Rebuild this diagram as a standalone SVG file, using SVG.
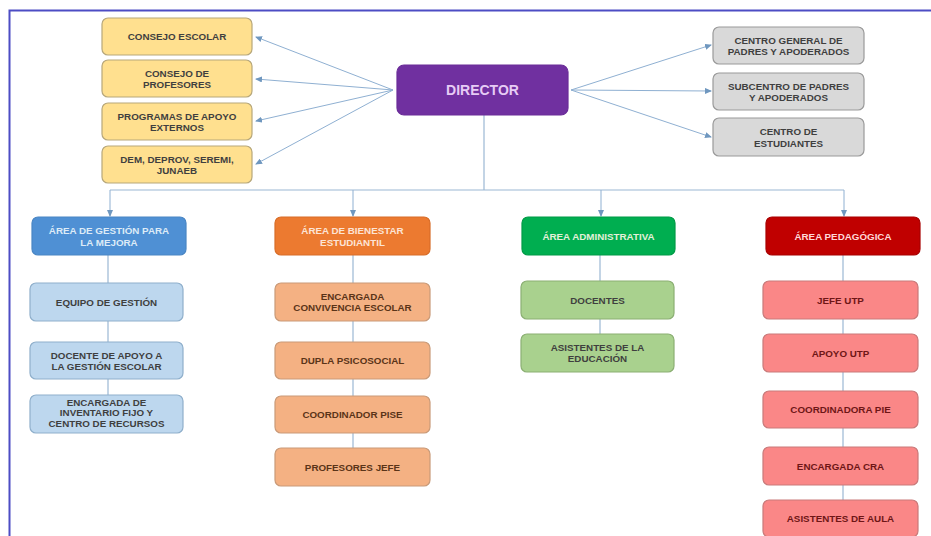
<svg xmlns="http://www.w3.org/2000/svg" width="931" height="536" viewBox="0 0 931 536">
<defs>
<marker id="ah" markerUnits="userSpaceOnUse" markerWidth="7" markerHeight="6" refX="6" refY="3" orient="auto">
<path d="M0,0 L7,3 L0,6 Z" fill="#6F97BF"/>
</marker>
<style>
text{font-family:"Liberation Sans",Arial,sans-serif;font-weight:bold;font-size:9.8px;text-anchor:middle}
.bx{stroke-width:1.2}
.y{fill:#FFE08F;stroke:#B7A77A}
.g{fill:#D9D9D9;stroke:#9A9A9A}
.dir{fill:#7030A0;stroke:#6A2C98}
.hb{fill:#4F90D4;stroke:#4A86C4}
.ho{fill:#EC7A30;stroke:#D86D28}
.hg{fill:#00AE50;stroke:#009A46}
.hr{fill:#C00000;stroke:#A80000}
.lb{fill:#BDD7EE;stroke:#8FAFCB}
.lo{fill:#F4B183;stroke:#C99A78}
.lg{fill:#A9D18E;stroke:#8BAF73}
.lr{fill:#FA8787;stroke:#C97A7A}
.td{fill:#3F3F3F}
.tor{fill:#5A3418}
.trd{fill:#6E1616}
.tw{font-size:14px;fill:#E6CCF5}
.tlb{fill:#DDEBF7}
.tlo{fill:#FCE4D6}
.tlg{fill:#E2F0D9}
.tlr{fill:#FFD9D9}
.c{stroke:#9BB7D4;stroke-width:1.2;fill:none}
.ca{stroke:#8FB0D2;stroke-width:1;fill:none;marker-end:url(#ah)}
</style>
</defs>
<rect width="931" height="536" fill="#FFFFFF"/>
<path d="M9.5,536 V10.5 H931" fill="none" stroke="#4C4CC4" stroke-width="2"/>

<g id="connectors">
<path class="ca" d="M393,90 L256,37"/>
<path class="ca" d="M393,90 L256,79"/>
<path class="ca" d="M393,90 L256,121"/>
<path class="ca" d="M393,90 L256,164"/>
<path class="ca" d="M571,90 L711,45"/>
<path class="ca" d="M571,90 L711,91"/>
<path class="ca" d="M571,90 L711,137"/>
<path class="c" d="M484,115 V190"/>
<path class="c" d="M110,190 H844"/>
<path class="ca" d="M110,190 V216"/>
<path class="ca" d="M353,190 V216"/>
<path class="ca" d="M601,190 V216"/>
<path class="ca" d="M844,190 V216"/>
<path class="c" d="M108,255 V395"/>
<path class="c" d="M353,255 V448"/>
<path class="c" d="M600,255 V334"/>
<path class="c" d="M843,255 V500"/>
</g>

<g id="consejo-escolar"><rect class="bx y" x="102" y="18" width="150" height="37" rx="6"/><text class="td" x="177" y="40">CONSEJO ESCOLAR</text></g>
<g id="consejo-profesores"><rect class="bx y" x="102" y="60" width="150" height="37" rx="6"/><text class="td" x="177" y="76.5">CONSEJO DE</text><text class="td" x="177" y="88">PROFESORES</text></g>
<g id="programas-apoyo"><rect class="bx y" x="102" y="103" width="150" height="37" rx="6"/><text class="td" x="177" y="119.5">PROGRAMAS DE APOYO</text><text class="td" x="177" y="131">EXTERNOS</text></g>
<g id="dem"><rect class="bx y" x="102" y="146" width="150" height="37" rx="6"/><text class="td" x="177" y="162.5">DEM, DEPROV, SEREMI,</text><text class="td" x="177" y="174">JUNAEB</text></g>

<g id="director"><rect class="bx dir" x="397" y="65" width="171" height="50" rx="7"/><text class="tw" x="482.5" y="95">DIRECTOR</text></g>

<g id="centro-padres"><rect class="bx g" x="713" y="27" width="151" height="37" rx="6"/><text class="td" x="788.5" y="43.5">CENTRO GENERAL DE</text><text class="td" x="788.5" y="55">PADRES Y APODERADOS</text></g>
<g id="subcentro"><rect class="bx g" x="713" y="73" width="151" height="37" rx="6"/><text class="td" x="788.5" y="89.5">SUBCENTRO DE PADRES</text><text class="td" x="788.5" y="101">Y APODERADOS</text></g>
<g id="centro-estudiantes"><rect class="bx g" x="713" y="118" width="151" height="38" rx="6"/><text class="td" x="788.5" y="135">CENTRO DE</text><text class="td" x="788.5" y="146.5">ESTUDIANTES</text></g>

<g id="area-gestion"><rect class="bx hb" x="32" y="217" width="154" height="38" rx="6"/><text class="tlb" x="109" y="234">ÁREA DE GESTIÓN PARA</text><text class="tlb" x="109" y="245.5">LA MEJORA</text></g>
<g id="area-bienestar"><rect class="bx ho" x="275" y="217" width="155" height="38" rx="6"/><text class="tlo" x="352.5" y="234">ÁREA DE BIENESTAR</text><text class="tlo" x="352.5" y="245.5">ESTUDIANTIL</text></g>
<g id="area-administrativa"><rect class="bx hg" x="522" y="217" width="153" height="38" rx="6"/><text class="tlg" x="598.5" y="239.5">ÁREA ADMINISTRATIVA</text></g>
<g id="area-pedagogica"><rect class="bx hr" x="766" y="217" width="154" height="38" rx="6"/><text class="tlr" x="843" y="239.5">ÁREA PEDAGÓGICA</text></g>

<g id="equipo-gestion"><rect class="bx lb" x="30" y="283" width="153" height="38" rx="6"/><text class="td" x="106.5" y="305.5">EQUIPO DE GESTIÓN</text></g>
<g id="docente-apoyo"><rect class="bx lb" x="30" y="342" width="153" height="37" rx="6"/><text class="td" x="106.5" y="358.5">DOCENTE DE APOYO A</text><text class="td" x="106.5" y="370">LA GESTIÓN ESCOLAR</text></g>
<g id="encargada-inventario"><rect class="bx lb" x="30" y="395" width="153" height="38" rx="6"/><text class="td" x="106.5" y="405.5">ENCARGADA DE</text><text class="td" x="106.5" y="416">INVENTARIO FIJO Y</text><text class="td" x="106.5" y="426.5">CENTRO DE RECURSOS</text></g>

<g id="encargada-convivencia"><rect class="bx lo" x="275" y="283" width="155" height="38" rx="6"/><text class="tor" x="352.5" y="299.5">ENCARGADA</text><text class="tor" x="352.5" y="311">CONVIVENCIA ESCOLAR</text></g>
<g id="dupla"><rect class="bx lo" x="275" y="342" width="155" height="37" rx="6"/><text class="tor" x="352.5" y="364">DUPLA PSICOSOCIAL</text></g>
<g id="coordinador-pise"><rect class="bx lo" x="275" y="396" width="155" height="37" rx="6"/><text class="tor" x="352.5" y="418">COORDINADOR PISE</text></g>
<g id="profesores-jefe"><rect class="bx lo" x="275" y="448" width="155" height="38" rx="6"/><text class="tor" x="352.5" y="470.5">PROFESORES JEFE</text></g>

<g id="docentes"><rect class="bx lg" x="521" y="281" width="153" height="38" rx="6"/><text class="td" x="597.5" y="303.5">DOCENTES</text></g>
<g id="asistentes-educacion"><rect class="bx lg" x="521" y="334" width="153" height="38" rx="6"/><text class="td" x="597.5" y="350.5">ASISTENTES DE LA</text><text class="td" x="597.5" y="362">EDUCACIÓN</text></g>

<g id="jefe-utp"><rect class="bx lr" x="763" y="281" width="155" height="38" rx="6"/><text class="trd" x="840.5" y="303.5">JEFE UTP</text></g>
<g id="apoyo-utp"><rect class="bx lr" x="763" y="334" width="155" height="38" rx="6"/><text class="trd" x="840.5" y="356.5">APOYO UTP</text></g>
<g id="coordinadora-pie"><rect class="bx lr" x="763" y="391" width="155" height="37" rx="6"/><text class="trd" x="840.5" y="413">COORDINADORA PIE</text></g>
<g id="encargada-cra"><rect class="bx lr" x="763" y="447" width="155" height="38" rx="6"/><text class="trd" x="840.5" y="469.5">ENCARGADA CRA</text></g>
<g id="asistentes-aula"><rect class="bx lr" x="763" y="500" width="155" height="37" rx="6"/><text class="trd" x="840.5" y="522">ASISTENTES DE AULA</text></g>
</svg>
